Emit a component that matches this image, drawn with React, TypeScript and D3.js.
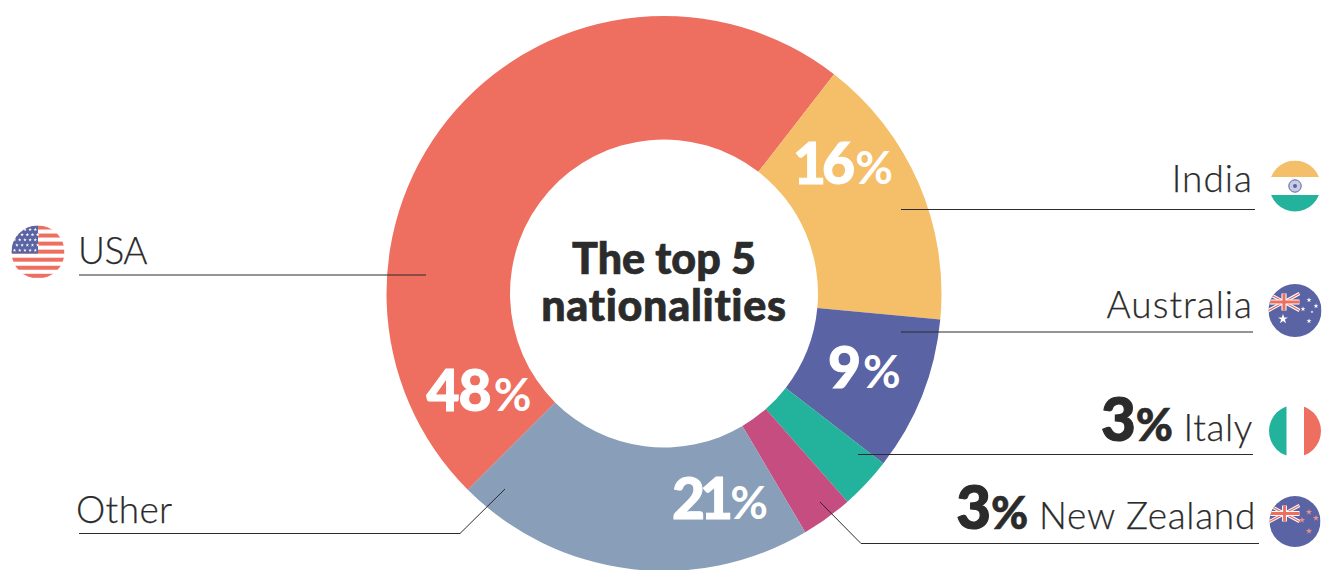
import React from "react";
import * as d3 from "d3";

// Nationality shares, clockwise from the lower-left edge of the ring
const categories = ["USA", "India", "Australia", "Italy", "New Zealand", "Other"];
const shares = [48, 16, 9, 3, 3, 21];
const sliceColors = ["#EE6E5F", "#F5BE69", "#5A63A4", "#23B29B", "#C54D7F", "#899EB8"];
const titleLines = ["The top 5", "nationalities"];

const WIDTH = 1322;
const HEIGHT = 570;
const CX = 664;
const CY = 293.5;
const OUTER = 277.5;
const INNER = 154;
const INK = "#2b2b2b";
const FONT = "Lato, 'Open Sans', sans-serif";

const RED = sliceColors[0];
const YELLOW = sliceColors[1];
const BLUE = sliceColors[2];
const TEAL = sliceColors[3];

const rad = (deg: number) => (deg * Math.PI) / 180;

// Where each percentage sits on its slice; tight closes up digit pairs holding a 1,
// gap then reopens the space ahead of the percent sign
const sliceLabels = [
  { i: 0, x: 426.5, y: 411, tight: -1, gap: 3 },
  { i: 1, x: 793, y: 184, tight: -4, gap: 4 },
  { i: 2, x: 828, y: 388, tight: 0, gap: 2 },
  { i: 5, x: 672, y: 519, tight: -5, gap: 2 },
];

// Leader lines running from a slice out to its caption
const leaders = [
  "M79,275H426",
  "M901,209.5H1255",
  "M901,332H1253",
  "M858,454.5H1253",
  "M820,502L861,543.5H1259",
  "M79,533.5H460L505,489",
];

function Clip({ id, cx, cy, r }: { id: string; cx: number; cy: number; r: number }) {
  return (
    <clipPath id={id}>
      <circle cx={cx} cy={cy} r={r} />
    </clipPath>
  );
}

function Star({ x, y, size, fill = "#fff" }: { x: number; y: number; size: number; fill?: string }) {
  const d = d3.symbol().type(d3.symbolStar).size(size)() as string;
  return <path d={d} transform={`translate(${x},${y})`} fill={fill} />;
}

// British ensign canton, scaled to width w and height h
function UnionJack({ x, y, w, h }: { x: number; y: number; w: number; h: number }) {
  return (
    <g>
      <rect x={x} y={y} width={w} height={h} fill={BLUE} />
      <path d={`M${x},${y}L${x + w},${y + h}M${x + w},${y}L${x},${y + h}`} stroke="#fff" strokeWidth={h * 0.2} />
      <path d={`M${x},${y}L${x + w},${y + h}M${x + w},${y}L${x},${y + h}`} stroke={RED} strokeWidth={h * 0.08} />
      <path d={`M${x + w / 2},${y}V${y + h}M${x},${y + h / 2}H${x + w}`} stroke="#fff" strokeWidth={h * 0.3} />
      <path d={`M${x + w / 2},${y}V${y + h}M${x},${y + h / 2}H${x + w}`} stroke={RED} strokeWidth={h * 0.18} />
    </g>
  );
}

function UsaFlag() {
  const cx = 38, cy = 252, r = 26.5;
  const bands = d3.range(7);
  const starRows = d3.range(5);
  const starCols = d3.range(5);
  return (
    <g clipPath="url(#clip-usa)">
      <Clip id="clip-usa" cx={cx} cy={cy} r={r} />
      <rect x={cx - r} y={cy - r} width={2 * r} height={2 * r} fill="#fff" />
      {bands.map((b) => (
        <rect key={b} x={cx - r} y={cy - r + b * 8.05} width={2 * r} height={4} fill={RED} />
      ))}
      <rect x={cx - r} y={cy - r} width={r} height={28} fill={BLUE} />
      {starRows.map((row) =>
        starCols.map((col) => (
          <Star key={`${row}-${col}`} x={cx - r + 3 + col * 5.2 + (row % 2) * 2.4} y={cy - r + 4 + row * 5.2} size={4} />
        ))
      )}
    </g>
  );
}

function IndiaFlag() {
  const cx = 1295, cy = 186, r = 25.5;
  return (
    <g clipPath="url(#clip-india)">
      <Clip id="clip-india" cx={cx} cy={cy} r={r} />
      <rect x={cx - r} y={cy - r} width={2 * r} height={16.5} fill={YELLOW} />
      <rect x={cx - r} y={cy + 9} width={2 * r} height={17} fill={TEAL} />
      <circle cx={cx} cy={cy} r={6.2} fill="#c9cce3" stroke={BLUE} strokeWidth={1} />
      <circle cx={cx} cy={cy} r={2} fill={BLUE} />
    </g>
  );
}

function AustraliaFlag() {
  const cx = 1295, cy = 310.5, r = 26.5;
  return (
    <g clipPath="url(#clip-aus)">
      <Clip id="clip-aus" cx={cx} cy={cy} r={r} />
      <rect x={cx - r} y={cy - r} width={2 * r} height={2 * r} fill={BLUE} />
      <UnionJack x={cx - r} y={cy - 17} w={31} h={17} />
      <Star x={1283} y={319} size={30} />
      <Star x={1309} y={300} size={8} />
      <Star x={1316} y={306} size={8} />
      <Star x={1303} y={309} size={8} />
      <Star x={1312} y={312} size={3} />
      <Star x={1309} y={321} size={8} />
    </g>
  );
}

function ItalyFlag() {
  const cx = 1295, cy = 431, r = 26;
  return (
    <g clipPath="url(#clip-italy)">
      <Clip id="clip-italy" cx={cx} cy={cy} r={r} />
      <rect x={cx - r} y={cy - r} width={17.5} height={2 * r} fill={TEAL} />
      <rect x={cx + 9} y={cy - r} width={17} height={2 * r} fill={RED} />
    </g>
  );
}

function NewZealandFlag() {
  const cx = 1295, cy = 521.5, r = 25.5;
  return (
    <g clipPath="url(#clip-nz)">
      <Clip id="clip-nz" cx={cx} cy={cy} r={r} />
      <rect x={cx - r} y={cy - r} width={2 * r} height={2 * r} fill={BLUE} />
      <UnionJack x={cx - r} y={cy - 16} w={30} h={16} />
      <Star x={1309} y={512} size={12} fill="#EF8F86" />
      <Star x={1316} y={518} size={12} fill="#EF8F86" />
      <Star x={1302} y={520} size={12} fill="#EF8F86" />
      <Star x={1309} y={531} size={12} fill="#EF8F86" />
    </g>
  );
}

// Heavy "3%" lead-in followed by the lighter country name
function ShareCaption({ x, y, i, spacing }: { x: number; y: number; i: number; spacing: number }) {
  return (
    <text x={x} y={y} textAnchor="end">
      <tspan fontWeight={900} fontSize={60} stroke={INK} strokeWidth={1.2}>{shares[i]}</tspan>
      <tspan fontWeight={900} fontSize={45} stroke={INK} strokeWidth={0.6}>%</tspan>
      <tspan letterSpacing={spacing}> {categories[i]}</tspan>
    </text>
  );
}

export default function App() {
  const pie = d3
    .pie<number>()
    .sort(null)
    .startAngle(rad(225))
    .endAngle(rad(585));
  const arc = d3
    .arc<d3.PieArcDatum<number>>()
    .innerRadius(INNER)
    .outerRadius(OUTER);
  const slices = pie(shares);

  return (
    <svg
      width={WIDTH}
      height={HEIGHT}
      viewBox={`0 0 ${WIDTH} ${HEIGHT}`}
      style={{ position: "absolute", left: 0, top: 0, display: "block", background: "#fff" }}
      fontFamily={FONT}
    >
      <g transform={`translate(${CX},${CY})`}>
        {slices.map((s, i) => (
          <path key={categories[i]} d={arc(s) as string} fill={sliceColors[i]} />
        ))}
      </g>

      {leaders.map((d) => (
        <path key={d} d={d} fill="none" stroke={INK} strokeWidth={1} />
      ))}

      <text textAnchor="middle" fontWeight={900} fontSize={43} fill={INK} stroke={INK} strokeWidth={0.7}>
        <tspan x={664} y={274}>{titleLines[0]}</tspan>
        <tspan x={664} y={321} letterSpacing={0.7}>{titleLines[1]}</tspan>
      </text>

      {sliceLabels.map((l) => (
        <text key={l.i} x={l.x} y={l.y} fill="#fff" fontWeight={900} fontSize={57}>
          <tspan stroke="#fff" strokeWidth={1} letterSpacing={l.tight}>{shares[l.i]}</tspan>
          <tspan dx={l.gap} fontSize={46} fontWeight={700}>%</tspan>
        </text>
      ))}

      <g fill={INK} fontWeight={300} fontSize={37} stroke={INK} strokeWidth={0.25}>
        <text x={78} y={264} letterSpacing={-0.5}>{categories[0]}</text>
        <text x={1253} y={192} textAnchor="end" letterSpacing={1}>{categories[1]}</text>
        <text x={1253} y={318} textAnchor="end" letterSpacing={1}>{categories[2]}</text>
        <ShareCaption x={1253} y={441} i={3} spacing={0.6} />
        <ShareCaption x={1256} y={529} i={4} spacing={0.7} />
        <text x={76} y={523} letterSpacing={0.4}>{categories[5]}</text>
      </g>

      <UsaFlag />
      <IndiaFlag />
      <AustraliaFlag />
      <ItalyFlag />
      <NewZealandFlag />
    </svg>
  );
}
